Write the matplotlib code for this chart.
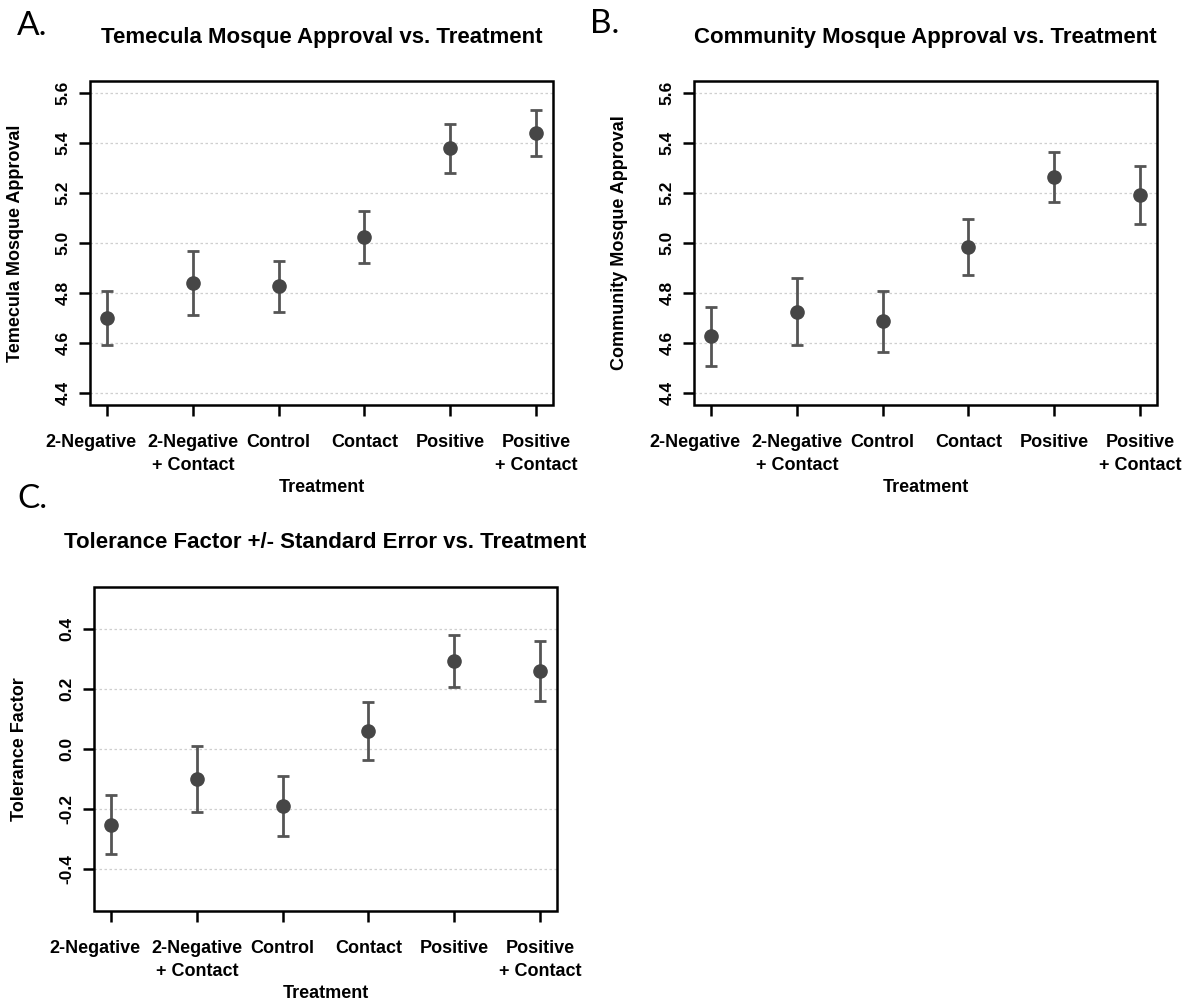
import matplotlib.pyplot as plt
from matplotlib.patches import Rectangle
from matplotlib.transforms import ScaledTranslation
import numpy as np

plt.rcParams['font.family'] = ['Liberation Sans', 'DejaVu Sans']
plt.rcParams['font.weight'] = 'bold'

treatments = ["2-Negative", "2-Negative\n+ Contact", "Control", "Contact",
              "Positive", "Positive\n+ Contact"]

# panel A: Temecula mosque approval (mean, standard error)
temecula_mean = [4.700, 4.842, 4.827, 5.025, 5.378, 5.439]
temecula_se = [0.107, 0.128, 0.103, 0.104, 0.099, 0.092]

# panel B: community mosque approval
community_mean = [4.627, 4.726, 4.687, 4.984, 5.265, 5.190]
community_se = [0.117, 0.135, 0.122, 0.113, 0.100, 0.116]

# panel C: tolerance factor
tolerance_mean = [-0.252, -0.099, -0.191, 0.061, 0.293, 0.261]
tolerance_se = [0.098, 0.110, 0.100, 0.097, 0.086, 0.100]

approval_ticks = [4.4, 4.6, 4.8, 5.0, 5.2, 5.4, 5.6]
approval_labels = ["4.4", "4.6", "4.8", "5.0", "5.2", "5.4", "5.6"]
tolerance_ticks = [-0.4, -0.2, 0.0, 0.2, 0.4]
tolerance_labels = ["-0.4", "-0.2", "0.0", "0.2", "0.4"]

W, H = 1199, 1001
fig = plt.figure(figsize=(W / 100, H / 100), dpi=100)

DOT = '#464646'
BAR = '#555555'


def px(x, y):
    # pixel position (from top left) -> figure fraction
    return x / W, 1 - y / H


def panel(left, top, means, ses, lo, hi, ticks, labels, title, ylabel, letter, letter_xy):
    w, h = 463, 324
    ax = fig.add_axes([left / W, 1 - (top + h) / H, w / W, h / H])
    x = np.arange(1, len(treatments) + 1)
    ax.errorbar(x, means, yerr=ses, fmt='o', color=DOT, ecolor=BAR,
                elinewidth=2, capsize=4.5, capthick=2, markersize=9.5, zorder=3)

    pad = (hi - lo) * 0.04
    ax.set_ylim(lo - pad, hi + pad)
    ax.set_xlim(0.8, 6.2)
    ax.set_xticks(x)
    ax.set_xticklabels(treatments, fontsize=13)
    ax.set_yticks(ticks)
    ax.set_yticklabels(labels, fontsize=12.5, rotation=90, va='center')
    for t in ticks:
        ax.axhline(t, color='#cfcfcf', lw=0.9, ls=(0, (2, 2)), zorder=1)

    for s in ax.spines.values():
        s.set_visible(False)
    ax.add_patch(Rectangle((0, 0), 1, 1, transform=ax.transAxes, fill=False,
                           lw=1.8, color='black', clip_on=False, zorder=5))
    ax.tick_params(axis='both', direction='out', length=8, width=1.8, color='black')
    ax.tick_params(axis='x', pad=13)
    ax.tick_params(axis='y', pad=6)

    labs = ax.get_xticklabels()
    for t in labs:
        t.set_linespacing(1.45)
    # the first label sits a little left of its tick in the original
    labs[0].set_transform(labs[0].get_transform()
                          + ScaledTranslation(-0.16, 0, fig.dpi_scale_trans))

    cx = left + w / 2
    fig.text(*px(cx, top - 44), title, ha='center', va='center', fontsize=16)
    fig.text(*px(cx, top + h + 82), "Treatment", ha='center', va='center', fontsize=13)
    fig.text(*px(left - 74, top + h / 2), ylabel, ha='center', va='center',
             rotation=90, fontsize=13)
    fig.text(*px(*letter_xy), letter, ha='left', va='baseline', fontsize=24,
             fontweight='normal', family=['Lato', 'DejaVu Sans'])
    return ax


panel(90, 81, temecula_mean, temecula_se, 4.4, 5.6, approval_ticks, approval_labels,
      "Temecula Mosque Approval vs. Treatment", "Temecula Mosque Approval", "A.", (17, 35))
panel(694, 81, community_mean, community_se, 4.4, 5.6, approval_ticks, approval_labels,
      "Community Mosque Approval vs. Treatment", "Community Mosque Approval", "B.", (590, 33))
panel(94, 587, tolerance_mean, tolerance_se, -0.5, 0.5, tolerance_ticks, tolerance_labels,
      "Tolerance Factor +/- Standard Error vs. Treatment", "Tolerance Factor", "C.", (17, 508))

fig.savefig('out.png', dpi=100)
